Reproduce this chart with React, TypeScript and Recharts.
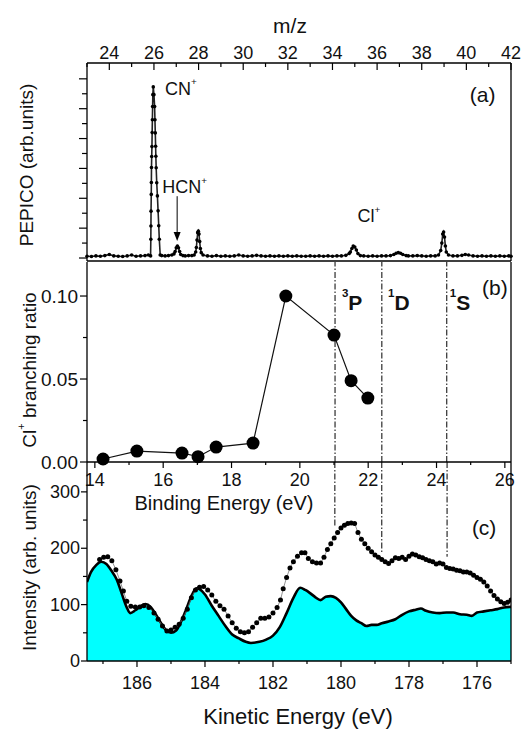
import React from "react";
import {
  ComposedChart, Line, Area, XAxis, YAxis, ReferenceLine, ReferenceDot, Label,
} from "recharts";

const FONT = "'Liberation Sans', Arial, sans-serif";
const INK = "#000";
const AXIS = { stroke: INK, strokeWidth: 1.3 };

// ---- panel (a): PEPICO spectrum vs m/z ----
const MZ = [
  23.0, 23.2, 23.4, 23.6, 23.8, 24.0, 24.2, 24.4, 24.6, 24.8, 25.0, 25.2, 25.4, 25.6, 25.75,
  25.85, 25.86, 25.865, 25.87, 25.88, 25.885, 25.89, 25.9, 25.91, 25.92, 25.93, 25.94, 25.95, 25.97,
  26.0, 26.03, 26.045, 26.06, 26.075, 26.085, 26.1, 26.125, 26.155, 26.185, 26.215, 26.24, 26.28,
  26.35, 26.5, 26.65, 26.8,
  26.9, 26.95, 27.0, 27.05, 27.1, 27.15, 27.2, 27.3,
  27.4, 27.55, 27.7, 27.8, 27.87,
  27.9, 27.93, 27.96, 27.99, 28.02, 28.05, 28.08, 28.12, 28.2,
  28.4, 28.6, 28.8, 29.0, 29.2, 29.4, 29.6, 29.8, 30.0, 30.2, 30.4, 30.6, 30.8, 31.0, 31.2, 31.4,
  31.6, 31.8, 32.0, 32.2, 32.4, 32.6, 32.8, 33.0, 33.2, 33.4, 33.6, 33.8, 34.0, 34.2, 34.4, 34.6, 34.75,
  34.8, 34.87, 34.93, 35.0, 35.07, 35.14, 35.25,
  35.4, 35.6, 35.8, 36.0, 36.2, 36.4, 36.6, 36.75,
  36.85, 36.95, 37.05, 37.15, 37.3,
  37.4, 37.6, 37.8, 38.0, 38.2, 38.4, 38.6, 38.75,
  38.85, 38.9, 38.94, 38.98, 39.02, 39.06, 39.1, 39.2,
  39.4, 39.6, 39.8, 39.95, 40.1, 40.3, 40.5, 40.7, 40.9, 41.1, 41.3, 41.5, 41.7, 41.9, 42.0,
];
const PEPICO = [
  0.06, 0.05, 0.07, 0.06, 0.08, 0.12, 0.07, 0.06, 0.05, 0.07, 0.1, 0.06, 0.07, 0.08, 0.1,
  0.07, 0.63, 1.07, 1.57, 2.13, 2.53, 3.03, 3.4, 3.73, 4.2, 4.63, 5.07, 5.47, 5.73,
  5.47, 5.07, 4.63, 4.19, 3.74, 3.41, 3.02, 2.52, 2.08, 1.58, 1.08, 0.63, 0.1,
  0.08, 0.07, 0.08, 0.1,
  0.14, 0.22, 0.34, 0.4, 0.34, 0.22, 0.12, 0.08,
  0.07, 0.08, 0.08, 0.1, 0.2,
  0.35, 0.6, 0.85, 0.9, 0.8, 0.55, 0.32, 0.18, 0.1,
  0.07, 0.06, 0.08, 0.06, 0.07, 0.06, 0.07, 0.1, 0.07, 0.06, 0.07, 0.09, 0.07, 0.06, 0.07, 0.06,
  0.07, 0.06, 0.07, 0.06, 0.07, 0.06, 0.06, 0.07, 0.06, 0.07, 0.06, 0.07, 0.06, 0.07, 0.07, 0.09, 0.15,
  0.2, 0.32, 0.4, 0.37, 0.27, 0.15, 0.08,
  0.07, 0.06, 0.07, 0.06, 0.07, 0.07, 0.08, 0.12,
  0.16, 0.18, 0.16, 0.12, 0.08,
  0.07, 0.07, 0.08, 0.07, 0.06, 0.07, 0.07, 0.1,
  0.25, 0.5, 0.8, 0.87, 0.7, 0.4, 0.2, 0.1,
  0.07, 0.07, 0.09, 0.12, 0.1, 0.07, 0.06, 0.07, 0.06, 0.07, 0.06, 0.07, 0.06, 0.07, 0.06,
];
const MZ_TICKS = [23, 24, 25, 26, 27, 28, 29, 30, 31, 32, 33, 34, 35, 36, 37, 38, 39, 40, 41, 42];
const PEPICO_TICKS = [0, 0.5, 1, 1.5, 2, 2.5, 3, 3.5, 4, 4.5, 5, 5.5, 6];

// ---- panel (b): Cl+ branching ratio vs binding energy ----
const BINDING_E = [14.24, 15.23, 16.55, 17.02, 17.55, 18.63, 19.59, 21.0, 21.5, 21.99];
const BRANCHING = [0.0018, 0.0066, 0.0054, 0.0032, 0.009, 0.0114, 0.1, 0.0765, 0.049, 0.0385];
const BE_TICKS = [14, 15, 16, 17, 18, 19, 20, 21, 22, 23, 24, 25, 26];
const BR_TICKS = [0, 0.025, 0.05, 0.075, 0.1];
const STATE_BE = [21.03, 22.4, 24.3];

// ---- panel (c): photoelectron spectra vs kinetic energy ----
const KE_DOTS = [
  187.1, 186.98, 186.86, 186.74, 186.62, 186.5, 186.4, 186.3, 186.18, 186.05,
  185.92, 185.8, 185.65, 185.5, 185.38, 185.25, 185.12, 185.0, 184.88, 184.76,
  184.64, 184.52, 184.4, 184.28, 184.16, 184.04, 183.92, 183.8, 183.68, 183.56,
  183.44, 183.32, 183.2, 183.08, 182.96, 182.84, 182.72, 182.6, 182.48, 182.36,
  182.24, 182.12, 182.0, 181.88, 181.78, 181.7, 181.6, 181.5, 181.4, 181.28,
  181.16, 181.06, 180.96, 180.84, 180.72, 180.6, 180.5, 180.4, 180.3, 180.2,
  180.1, 180.0, 179.9, 179.8, 179.7, 179.6, 179.5, 179.4, 179.3, 179.2,
  179.1, 179.0, 178.9, 178.8, 178.7, 178.6, 178.5, 178.4, 178.3, 178.2,
  178.1, 178.0, 177.9, 177.8, 177.7, 177.6, 177.5, 177.4, 177.3, 177.2,
  177.1, 177.0, 176.9, 176.8, 176.7, 176.6, 176.5, 176.4, 176.3, 176.2,
  176.1, 176.0, 175.9, 175.8, 175.7, 175.6, 175.5, 175.4, 175.3, 175.2,
  175.1, 175.0,
];
const I_DOTS = [
  180, 184, 185, 178, 162, 142, 124, 106, 97, 96,
  96, 98, 95, 85, 74, 62, 53, 55, 60, 65,
  76, 92, 112, 126, 131, 132, 126, 117, 106, 98,
  92, 80, 68, 58, 52, 50, 52, 60, 68, 76,
  76, 78, 85, 95, 108, 128, 148, 165, 176, 186,
  192, 192, 182, 176, 174, 174, 184, 198, 208, 218,
  228, 236, 241, 244, 245, 244, 228, 216, 208, 200,
  194, 188, 184, 180, 176, 173, 178, 183, 182, 184,
  180, 186, 190, 188, 185, 183, 180, 178, 176, 172,
  174, 172, 166, 164, 163, 161, 160, 158, 158, 156,
  152, 148, 145, 140, 133, 124, 116, 110, 105, 102,
  104, 108,
];
const KE_FILL = [
  187.47, 187.35, 187.2, 187.05, 186.9, 186.75, 186.6, 186.45, 186.3, 186.2,
  186.05, 185.9, 185.75, 185.6, 185.45, 185.3, 185.15, 185.0, 184.85, 184.7,
  184.55, 184.4, 184.25, 184.15, 184.0, 183.8, 183.6, 183.4, 183.2, 183.0,
  182.8, 182.65, 182.4, 182.2, 182.0, 181.8, 181.6, 181.4, 181.2, 181.05,
  180.9, 180.75, 180.6, 180.45, 180.3, 180.15, 180.0, 179.85, 179.7, 179.55,
  179.4, 179.25, 179.1, 178.95, 178.8, 178.6, 178.4, 178.2, 178.0, 177.8,
  177.65, 177.5, 177.3, 177.1, 176.9, 176.7, 176.5, 176.3, 176.15, 176.0,
  175.8, 175.6, 175.4, 175.2, 175.0,
];
const I_FILL = [
  140, 158, 170, 176, 172, 160, 145, 120, 95, 85,
  90, 97, 101, 96, 83, 68, 55, 50, 54, 70,
  92, 115, 129, 127, 118, 98, 80, 62, 47, 40,
  34, 32, 34, 38, 45, 60, 85, 112, 130, 126,
  120, 113, 108, 114, 115, 112, 104, 92, 80, 72,
  67, 62, 64, 64, 67, 70, 74, 82, 88, 91,
  93, 89, 86, 85, 86, 86, 83, 82, 80, 86,
  88, 90, 92, 95, 96,
];
const KE_TICKS = [175, 176, 177, 178, 179, 180, 181, 182, 183, 184, 185, 186, 187];
const I_TICKS = [0, 50, 100, 150, 200, 250, 300];
const STATE_KE = [180.18, 178.8, 176.88];
const STATE_KE_END = [240, 192, 185];

const pepicoRows = MZ.map((x, i) => ({ x, v: PEPICO[i] }));
const branchRows = BINDING_E.map((x, i) => ({ x, v: BRANCHING[i] }));
const dotRows = KE_DOTS.map((x, i) => ({ x, v: I_DOTS[i] }));
const fillRows = KE_FILL.map((x, i) => ({ x, v: I_FILL[i] }));

type Side = "left" | "right" | "top" | "bottom";
interface TickCfg {
  step: number;
  major: number;
  minor: number;
  inward?: boolean;
  fmt?: (v: number) => string;
  gap?: number;
  size?: number;
}

// custom tick: axis sets tickSize/tickMargin to 0 so (x, y) sits on the axis line
function makeTick(side: Side, cfg: TickCfg) {
  return (props: any) => {
    const { x, y, payload } = props;
    const v = payload.value as number;
    const r = v / cfg.step;
    const big = Math.abs(r - Math.round(r)) < 1e-6;
    const len = big ? cfg.major : cfg.minor;
    const d = cfg.inward ? -1 : 1;
    const gap = cfg.gap ?? 3;
    let x2 = x, y2 = y, tx = x, ty = y;
    let anchor: "start" | "middle" | "end" = "middle";
    if (side === "left") { x2 = x - d * len; tx = x - cfg.major - gap; anchor = "end"; }
    if (side === "right") { x2 = x + d * len; tx = x + cfg.major + gap; anchor = "start"; }
    if (side === "top") { y2 = y - d * len; ty = y - gap; }
    if (side === "bottom") { y2 = y + d * len; ty = y + gap; }
    return (
      <g>
        <line x1={x} y1={y} x2={x2} y2={y2} stroke={INK} strokeWidth={1.2} />
        {big && cfg.fmt && (
          <text x={tx} y={ty} textAnchor={anchor} dominantBaseline="central"
            fontFamily={FONT} fontSize={cfg.size ?? 18} fill="#111">
            {cfg.fmt(v)}
          </text>
        )}
      </g>
    );
  };
}

const axisBase = { tickSize: 0, tickMargin: 0, tickLine: false, axisLine: AXIS, interval: 0 as const };

const vTitle = (dx: number, dy: number, body: React.ReactNode, size = 19) => (p: any) => {
  const vb = p.viewBox;
  const cx = vb.x + dx;
  const cy = vb.y + vb.height / 2 + dy;
  return (
    <text x={cx} y={cy} transform={`rotate(-90, ${cx}, ${cy})`} textAnchor="middle"
      dominantBaseline="central" fontFamily={FONT} fontSize={size} fill="#111">
      {body}
    </text>
  );
};

const hTitle = (dx: number, dy: number, body: React.ReactNode, size: number) => (p: any) => {
  const vb = p.viewBox;
  return (
    <text x={vb.x + dx} y={vb.y + dy} textAnchor="middle" dominantBaseline="central"
      fontFamily={FONT} fontSize={size} fill="#111">
      {body}
    </text>
  );
};

// text drawn at a data point (used for annotations)
const note = (body: React.ReactNode, anchor: "start" | "middle" = "start", size = 18, bold = false) =>
  (p: any) => (
    <text x={p.cx} y={p.cy} textAnchor={anchor} dominantBaseline="central" fontFamily={FONT}
      fontSize={size} fontWeight={bold ? 700 : 400} fill="#111">
      {body}
    </text>
  );

const sup = (base: string, s: string, size = 18) => [
  <tspan key="b">{base}</tspan>,
  <tspan key="s" fontSize={size * 0.55} dy={-size * 0.42}>{s}</tspan>,
];

const preSup = (s: string, base: string, size = 21) => [
  <tspan key="s" fontSize={size * 0.55} dy={-size * 0.42}>{s}</tspan>,
  <tspan key="b" dy={size * 0.42}>{base}</tspan>,
];

const arrowHead = (p: any) => (
  <path d={`M${p.cx - 3.5},${p.cy - 9} L${p.cx + 3.5},${p.cy - 9} L${p.cx},${p.cy} Z`} fill={INK} />
);

function PanelA() {
  return (
    <ComposedChart width={523} height={275} margin={{ top: 33, right: 0, bottom: 13, left: 0 }}>
      <XAxis xAxisId="t" orientation="top" type="number" dataKey="x" domain={[23, 42]}
        ticks={MZ_TICKS} height={30} {...axisBase}
        tick={makeTick("top", { step: 2, major: 7, minor: 4, inward: true, gap: 10, fmt: (v) => String(v) })}>
        <Label content={hTitle(203, -8, "m/z", 21)} />
      </XAxis>
      <XAxis xAxisId="b" orientation="bottom" type="number" dataKey="x" domain={[23, 42]}
        ticks={MZ_TICKS} height={1} {...axisBase}
        tick={makeTick("bottom", { step: 2, major: 6, minor: 4 })} />
      <YAxis yAxisId="l" type="number" domain={[-0.1, 6.53]} ticks={PEPICO_TICKS} width={87}
        allowDataOverflow {...axisBase}
        tick={makeTick("left", { step: 1, major: 8, minor: 5 })}>
        <Label content={vTitle(26, 3, "PEPICO (arb.units)")} />
      </YAxis>
      <YAxis yAxisId="r" orientation="right" type="number" domain={[-0.1, 6.53]} width={12}
        {...axisBase} tick={false} />
      <Line xAxisId="t" yAxisId="l" data={pepicoRows} dataKey="v" type="linear"
        stroke="#222" strokeWidth={1.6} dot={{ r: 1.8, fill: INK, stroke: "none" }}
        isAnimationActive={false} />
      <ReferenceLine xAxisId="t" yAxisId="l" stroke={INK} strokeWidth={1}
        segment={[{ x: 27.04, y: 2.07 }, { x: 27.04, y: 0.8 }]} />
      <ReferenceDot xAxisId="t" yAxisId="l" x={27.04} y={0.57} r={1} shape={arrowHead} />
      <ReferenceDot xAxisId="t" yAxisId="l" x={26.5} y={5.67} r={1} shape={note(sup("CN", "+"))} />
      <ReferenceDot xAxisId="t" yAxisId="l" x={26.37} y={2.37} r={1} shape={note(sup("HCN", "+"))} />
      <ReferenceDot xAxisId="t" yAxisId="l" x={35.12} y={1.4} r={1} shape={note(sup("Cl", "+"))} />
      <ReferenceDot xAxisId="t" yAxisId="l" x={40.73} y={5.47} r={1} shape={note("(a)", "middle", 21)} />
    </ComposedChart>
  );
}

function PanelB() {
  return (
    <ComposedChart width={523} height={270} margin={{ top: 12, right: 0, bottom: 0, left: 0 }}>
      <XAxis type="number" dataKey="x" domain={[13.77, 26.18]} ticks={BE_TICKS} height={58}
        allowDataOverflow {...axisBase}
        tick={makeTick("bottom", { step: 2, major: 6, minor: 3, gap: 18, fmt: (v) => String(v) })}>
        <Label content={hTitle(137, 41, "Binding Energy (eV)", 20)} />
      </XAxis>
      <YAxis type="number" domain={[0, 0.1205]} ticks={BR_TICKS} width={87} {...axisBase}
        tick={makeTick("left", { step: 0.05, major: 7, minor: 4, gap: 2, size: 19, fmt: (v) => v.toFixed(2) })}>
        <Label content={vTitle(29, 8, [
          <tspan key="a">Cl</tspan>,
          <tspan key="b" fontSize={11} dy={-8}>+</tspan>,
          <tspan key="c" dy={8}> branching ratio</tspan>,
        ])} />
      </YAxis>
      <YAxis yAxisId="r" orientation="right" type="number" domain={[0, 0.1205]} ticks={BR_TICKS}
        width={12} {...axisBase}
        tick={makeTick("right", { step: 0.025, major: 6, minor: 6, inward: true })} />
      {STATE_BE.map((e) => (
        <ReferenceLine key={e} x={e} stroke={INK} strokeWidth={1} strokeDasharray="6 2 1.5 2" />
      ))}
      <Line data={branchRows} dataKey="v" type="linear" stroke="#111" strokeWidth={1.2}
        dot={{ r: 6.5, fill: INK, stroke: "none" }} isAnimationActive={false} />
      <ReferenceDot x={21.23} y={0.0964} r={1} shape={note(preSup("3", "P"), "start", 21, true)} />
      <ReferenceDot x={22.58} y={0.0964} r={1} shape={note(preSup("1", "D"), "start", 21, true)} />
      <ReferenceDot x={24.39} y={0.0964} r={1} shape={note(preSup("1", "S"), "start", 21, true)} />
      <ReferenceDot x={25.71} y={0.1054} r={1} shape={note("(b)", "middle", 21)} />
    </ComposedChart>
  );
}

function PanelC() {
  return (
    <ComposedChart width={523} height={279} margin={{ top: 12, right: 0, bottom: 0, left: 0 }}>
      <XAxis type="number" dataKey="x" domain={[175, 187.47]} reversed ticks={KE_TICKS} height={68}
        allowDataOverflow {...axisBase}
        tick={makeTick("bottom", { step: 2, major: 6, minor: 3, gap: 22, fmt: (v) => String(v) })}>
        <Label content={hTitle(211, 55, "Kinetic Energy (eV)", 22)} />
      </XAxis>
      <YAxis type="number" domain={[0, 353]} ticks={I_TICKS} width={87} allowDataOverflow {...axisBase}
        tick={makeTick("left", { step: 100, major: 6, minor: 4, gap: 1, fmt: (v) => String(v) })}>
        <Label content={vTitle(29, 6, "Intensity (arb. units)")} />
      </YAxis>
      <YAxis yAxisId="r" orientation="right" type="number" domain={[0, 353]} width={12}
        {...axisBase} tick={false} />
      <Area data={fillRows} dataKey="v" type="monotone" fill="#00FFFF" fillOpacity={1}
        stroke="#000" strokeWidth={2.6} dot={false} isAnimationActive={false} />
      <Line data={dotRows} dataKey="v" type="linear" stroke="#777" strokeWidth={0.8}
        dot={{ r: 2.5, fill: INK, stroke: "none" }} isAnimationActive={false} />
      {STATE_KE.map((e, i) => (
        <ReferenceLine key={e} stroke={INK} strokeWidth={1} strokeDasharray="6 2 1.5 2"
          segment={[{ x: e, y: 353 }, { x: e, y: STATE_KE_END[i] }]} />
      ))}
      <ReferenceDot x={175.79} y={236} r={1} shape={note("(c)", "middle", 21)} />
    </ComposedChart>
  );
}

export default function App() {
  return (
    <div style={{ position: "absolute", left: 0, top: 0, width: 523, height: 729, background: "#fff" }}>
      <div style={{ position: "absolute", left: 0, top: 0 }}><PanelA /></div>
      <div style={{ position: "absolute", left: 0, top: 250 }}><PanelB /></div>
      <div style={{ position: "absolute", left: 0, top: 450 }}><PanelC /></div>
    </div>
  );
}
